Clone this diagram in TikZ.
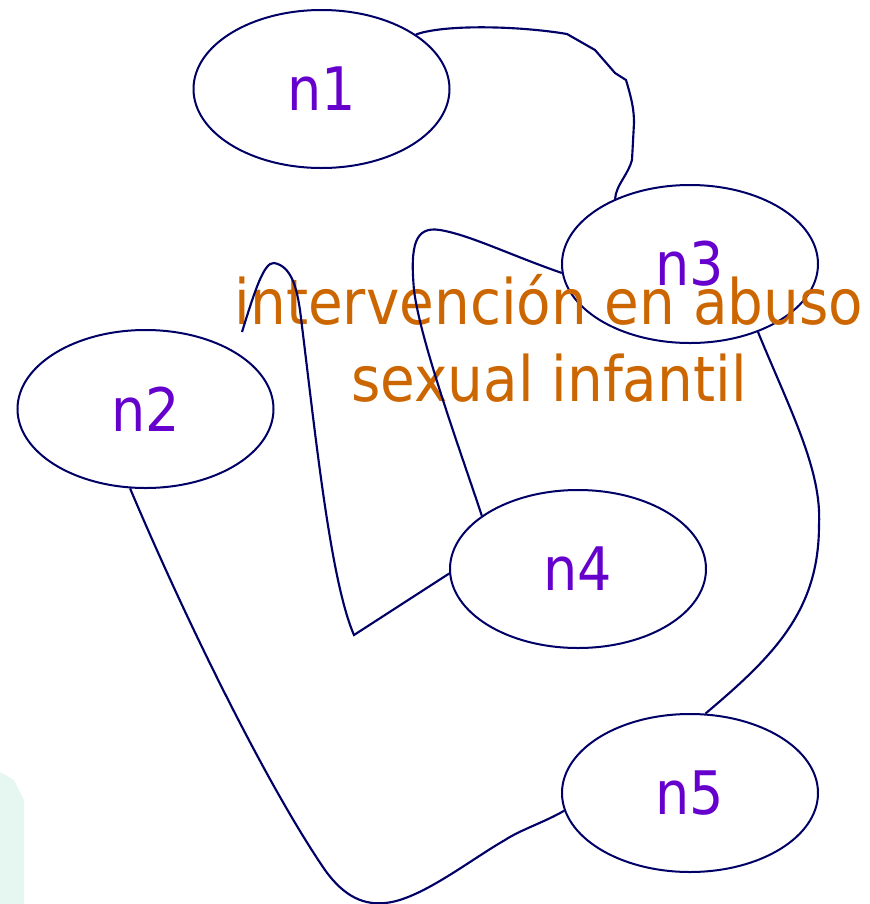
\documentclass[tikz,border=0pt]{standalone}
\usepackage{fontspec}
\usetikzlibrary{shapes.geometric}
\newfontfamily\rotulo[FakeStretch=0.9]{DejaVu Sans}
\definecolor{azul}{RGB}{0,0,102}
\definecolor{morado}{RGB}{102,0,204}
\definecolor{naranja}{RGB}{204,102,0}
\definecolor{menta}{RGB}{230,246,240}

\begin{document}
\begin{tikzpicture}[x=0.75pt,y=-0.75pt,line width=1.5pt,
  nodo/.style={ellipse,draw=azul,minimum width=192pt,minimum height=118.5pt,inner sep=0pt,
    text=morado,font=\rotulo\fontsize{45}{50}\selectfont},
  enlace/.style={azul,line width=1.6pt}]
  \useasboundingbox (0,0) rectangle (870,904);
  % resto de la imagen de fondo
  \fill[menta] (0,772) -- (14,780) -- (24,800) -- (24,904) -- (0,904) -- cycle;
  % nodos
  \node[nodo] (n1) at (321.5,89) {n1};
  \node[nodo] (n3) at (690,264) {n3};
  \node[nodo] (n2) at (145.5,409) {n2};
  \node[nodo] (n4) at (578,569) {n4};
  \node[nodo] (n5) at (690,793) {n5};
  % titulo
  \node[text=naranja,align=center,font=\rotulo\fontsize{47}{57.75}\selectfont] (tit) at (549,338)
    {intervención en abuso\\sexual infantil};
  % enlaces
  \coordinate (z0) at (242,332);
  \draw[enlace] (n1.30) .. controls (445,24) and (520,26) .. (567,34) -- (595,50) -- (615,73) -- (626,80)
    .. controls (632,100) and (634,110) .. (634,123) -- (632,160) .. controls (628,175) and (616,185) .. (n3.139);
  \draw[enlace] (z0) .. controls (255,290) and (264,262) .. (274,263) .. controls (292,266) and (297,290) .. (300,310)
    .. controls (315,430) and (330,580) .. (354,635) -- (n4.182);
  \draw[enlace] (n3.184) .. controls (510,255) and (470,235) .. (440,230) .. controls (415,226) and (410,245) .. (414,290)
    .. controls (420,340) and (460,450) .. (n4.151);
  \draw[enlace] (n3.-45) .. controls (790,410) and (822,470) .. (819,525) .. controls (819,610) and (775,655) .. (n5.79);
  \draw[enlace] (n2.259) .. controls (190,630) and (270,790) .. (325,870) .. controls (345,898) and (365,905) .. (385,903)
    .. controls (420,900) and (470,860) .. (505,840) .. controls (520,830) and (545,822) .. (n5.188);
\end{tikzpicture}
\end{document}
